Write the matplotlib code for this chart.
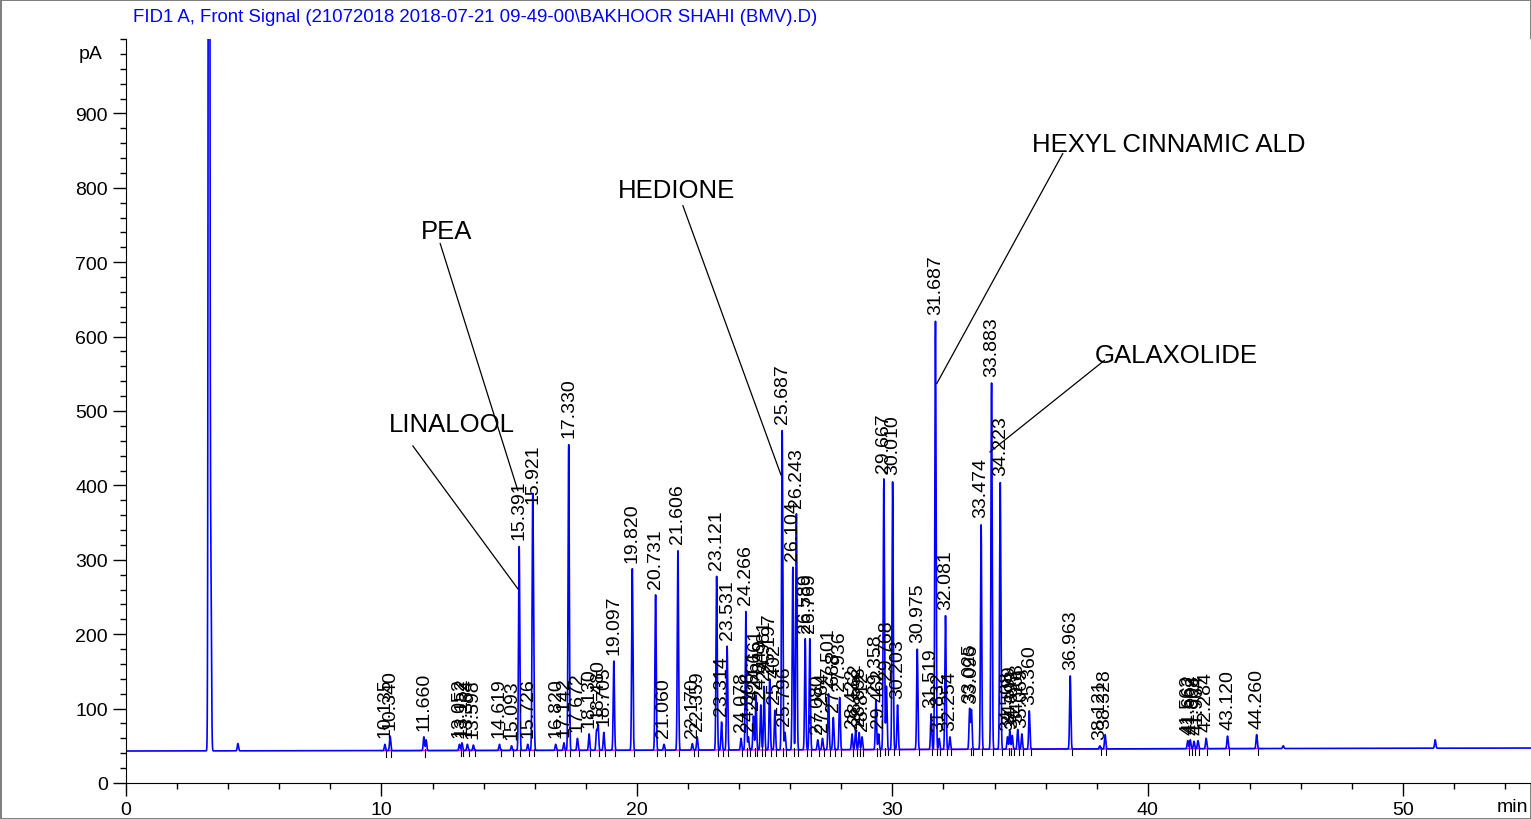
import numpy as np
import matplotlib.pyplot as plt
from matplotlib.ticker import MultipleLocator

plt.rcParams['font.family'] = ['Liberation Sans', 'DejaVu Sans']

title = r"FID1 A, Front Signal (21072018 2018-07-21 09-49-00\BAKHOOR SHAHI (BMV).D)"

# labelled peaks: retention time (min) and apex height (pA)
peak_times = [10.135, 10.340, 11.660, 13.052, 13.152, 13.364, 13.598, 14.619, 15.093,
              15.391, 15.726, 15.921, 16.820, 17.142, 17.330, 17.672, 18.130, 18.480,
              18.705, 19.097, 19.820, 20.731, 21.060, 21.606, 22.170, 22.359, 23.121,
              23.314, 23.531, 24.078, 24.266, 24.366, 24.561, 24.661, 24.849, 24.981,
              25.197, 25.402, 25.687, 25.796, 26.104, 26.243, 26.589, 26.769, 27.080,
              27.264, 27.501, 27.688, 27.936, 28.422, 28.562, 28.698, 28.812, 29.358,
              29.462, 29.667, 29.768, 30.010, 30.203, 30.975, 31.519, 31.687, 31.832,
              32.081, 32.254, 33.025, 33.096, 33.474, 33.883, 34.223, 34.508, 34.599,
              34.693, 34.908, 35.069, 35.360, 36.963, 38.121, 38.328, 41.563, 41.662,
              41.808, 41.964, 42.284, 43.120, 44.260]
peak_heights = [52, 63, 62, 52, 54, 52, 51, 52, 50,
                318, 52, 367, 52, 54, 456, 60, 66, 78,
                68, 164, 288, 253, 52, 313, 53, 62, 278,
                82, 184, 60, 231, 62, 90, 118, 105, 130,
                140, 98, 474, 68, 290, 362, 194, 194, 58,
                60, 120, 88, 115, 66, 72, 68, 62, 112,
                66, 409, 130, 406, 105, 180, 93, 621, 60,
                225, 62, 100, 98, 348, 538, 404, 62, 70,
                64, 72, 66, 97, 144, 50, 65, 57, 58,
                56, 57, 60, 63, 65]

# unlabelled peaks (solvent front and a few small ones)
extra_times = [3.25, 3.32, 4.38, 11.75, 15.96, 18.42, 45.3, 51.25]
extra_heights = [3000, 290, 53, 58, 120, 70, 50, 58]

# baseline drift
base_t = [0, 20, 40, 55]
base_v = [43, 44, 46, 47]

# compound annotations: name, text position, line start, line end
names = ["LINALOOL", "PEA", "HEDIONE", "HEXYL CINNAMIC ALD", "GALAXOLIDE"]
name_xy = [(12.75, 482), (12.55, 742), (21.55, 797), (40.8, 859), (41.1, 575)]
line_start = [(11.23, 453), (12.30, 725), (21.8, 776), (36.67, 846), (38.3, 568)]
line_end = [(15.34, 261), (15.34, 393), (25.64, 414), (31.74, 537), (33.82, 445)]

t = np.arange(0, 55, 0.004)
base = np.interp(t, base_t, base_v)
y = base.copy()
for tt, h in zip(peak_times + extra_times, peak_heights + extra_heights):
    amp = h - np.interp(tt, base_t, base_v)
    y += amp * np.exp(-0.5 * ((t - tt) / 0.024) ** 2)

fig = plt.figure(figsize=(15.31, 8.2), dpi=100)
fig.patch.set_edgecolor('#808080')
fig.patch.set_linewidth(2)
ax = fig.add_axes([126 / 1531, 36 / 820, 1 - 126 / 1531, 744 / 820])

# integration baseline and marks
sel = (t > 10) & (t < 44.5)
ax.plot(t[sel], base[sel], color='magenta', lw=1)
for tt in peak_times:
    b = np.interp(tt, base_t, base_v)
    ax.plot([tt + 0.05, tt + 0.05], [b - 8, b + 2], color='black', lw=0.8)

ax.plot(t, y, color='blue', lw=1.2)

for tt, h in zip(peak_times, peak_heights):
    ax.annotate("%.3f" % tt, (tt, h), xytext=(0, 5), textcoords='offset points',
                rotation=90, ha='center', va='bottom', fontsize=14)

for name, pos, s, e in zip(names, name_xy, line_start, line_end):
    ax.text(pos[0], pos[1], name, ha='center', va='center', fontsize=18.5)
    ax.plot([s[0], e[0]], [s[1], e[1]], color='black', lw=0.9)

ax.set_xlim(0, 55)
ax.set_ylim(0, 1000)
ax.spines['top'].set_visible(False)
ax.spines['right'].set_visible(False)
ax.xaxis.set_major_locator(MultipleLocator(10))
ax.xaxis.set_minor_locator(MultipleLocator(2))
ax.set_yticks(range(0, 1000, 100))
ax.yaxis.set_minor_locator(MultipleLocator(20))
ax.tick_params(which='major', length=9.5, width=1, labelsize=14, direction='out')
ax.tick_params(which='minor', length=4.5, width=1, direction='out')
ax.text(-0.9, 980, "pA", ha='right', va='center', fontsize=14)
fig.text(1528 / 1531, 1 - 808 / 820, "min", ha='right', va='center', fontsize=14)
fig.text(133 / 1531, 1 - 18 / 820, title, ha='left', va='center', fontsize=13.4, color='blue')

fig.savefig('out.png', dpi=100)
